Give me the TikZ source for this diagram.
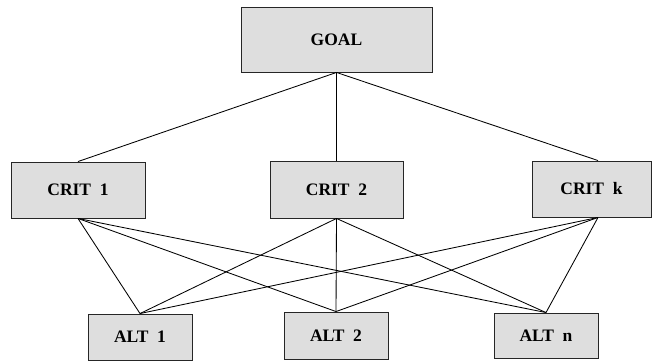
\documentclass[tikz,border=0pt]{standalone}
\usepackage{fontspec}
\setmainfont{Liberation Serif}
\begin{document}
\begin{tikzpicture}[x=1pt,y=-1pt,
  box/.style={draw=black!85,line width=0.9pt,fill=black!13,inner sep=0pt,font=\fontsize{17.5}{20}\selectfont\bfseries},
  link/.style={draw=black,line width=0.85pt}]
\useasboundingbox (0,0) rectangle (655,361);
\node[box,minimum width=191pt,minimum height=65pt] (goal) at (336.5,39.5) {GOAL};
\node[box,minimum width=134pt,minimum height=56pt] (c1) at (78,190) {CRIT~~1};
\node[box,minimum width=133pt,minimum height=57pt] (c2) at (336.5,189.5) {CRIT~~2};
\node[box,minimum width=119pt,minimum height=56pt] (ck) at (591.5,189) {CRIT~~k};
\node[box,minimum width=104pt,minimum height=46pt] (a1) at (140,337) {ALT~~1};
\node[box,minimum width=104pt,minimum height=47pt] (a2) at (336,335.5) {ALT~~2};
\node[box,minimum width=104pt,minimum height=45pt] (an) at (546,335.5) {ALT~~n};
\coordinate (ckt) at ([xshift=6.5pt]ck.north);
\coordinate (ckb) at ([xshift=6.5pt]ck.south);
\draw[link] (goal.south) -- (c1.north);
\draw[link] (goal.south) -- (c2.north);
\draw[link] (goal.south) -- (ckt);
\foreach \c in {c1.south,c2.south,ckb}{
  \draw[link] (\c) -- (a1.north);
  \draw[link] (\c) -- (a2.north);
  \draw[link] (\c) -- (an.north);
}
\end{tikzpicture}
\end{document}
